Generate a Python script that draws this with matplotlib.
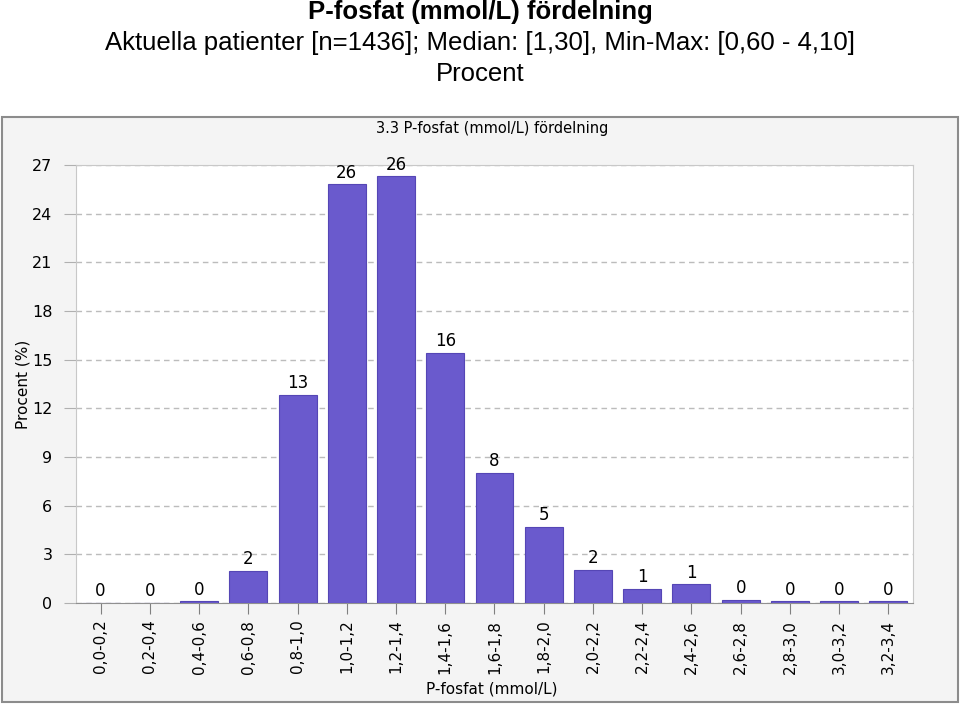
import matplotlib
matplotlib.use("Agg")
import matplotlib.pyplot as plt
from matplotlib.patches import Rectangle

categories = ['0,0-0,2', '0,2-0,4', '0,4-0,6', '0,6-0,8', '0,8-1,0', '1,0-1,2',
              '1,2-1,4', '1,4-1,6', '1,6-1,8', '1,8-2,0', '2,0-2,2', '2,2-2,4',
              '2,4-2,6', '2,6-2,8', '2,8-3,0', '3,0-3,2', '3,2-3,4']
percent = [0.0, 0.0, 0.1, 2.0, 12.85, 25.8, 26.3, 15.4, 8.0, 4.7, 2.05, 0.85,
           1.15, 0.2, 0.1, 0.1, 0.1]
bar_labels = ['0', '0', '0', '2', '13', '26', '26', '16', '8', '5', '2', '1',
              '1', '0', '0', '0', '0']
yticks = [0, 3, 6, 9, 12, 15, 18, 21, 24, 27]

W, H = 960, 704
fig = plt.figure(figsize=(W / 100, H / 100), dpi=100)
fig.patch.set_facecolor('white')

# headings above the panel
fig.text(0.5, 1 - 12 / H, 'P-fosfat (mmol/L) fördelning', ha='center', va='center',
         fontsize=18.5, fontweight='bold', family='Liberation Sans')
fig.text(0.5, 1 - 43 / H, 'Aktuella patienter [n=1436]; Median: [1,30], Min-Max: [0,60 - 4,10]',
         ha='center', va='center', fontsize=18.5, family='Liberation Sans')
fig.text(0.5, 1 - 74 / H, 'Procent', ha='center', va='center',
         fontsize=18.5, family='Liberation Sans')

# grey panel behind the chart
panel = Rectangle((2 / W, 1 - 702 / H), 956 / W, 585 / H,
                  transform=fig.transFigure, facecolor='#f4f4f4',
                  edgecolor='#8c8c8c', linewidth=1.5, zorder=-10)
fig.patches.append(panel)
fig.text(492 / W, 1 - 129 / H, '3.3 P-fosfat (mmol/L) fördelning', ha='center',
         va='center', fontsize=10.5)

ax = fig.add_axes([76 / W, 1 - 603 / H, 837 / W, 438 / H])
ax.set_facecolor('white')
x = range(len(categories))
ax.bar(x, percent, width=0.77, color='#6a5acd', edgecolor='#5546b5', linewidth=0.8, zorder=3)
for i, (v, lab) in enumerate(zip(percent, bar_labels)):
    ax.annotate(lab, (i, v), xytext=(0, 2), textcoords='offset points',
                ha='center', va='bottom', fontsize=12)

ax.set_xlim(-0.5, len(categories) - 0.5)
ax.set_ylim(0, 27)
ax.set_yticks(yticks)
ax.set_xticks(list(x))
ax.set_xticklabels(categories, rotation=90, fontsize=11)
ax.tick_params(axis='y', labelsize=11.5, length=9, color='#b0b0b0', pad=8)
ax.tick_params(axis='x', length=8, color='#808080', pad=4)
ax.yaxis.grid(True, linestyle=(0, (4, 3)), color='#bcbcbc', linewidth=1, zorder=0)
for s in ax.spines.values():
    s.set_color('#c8c8c8')
ax.spines['bottom'].set_color('#909090')

ax.set_ylabel('Procent (%)', fontsize=11)
ax.yaxis.set_label_coords(-46 / 837, 0.5)
ax.set_xlabel('P-fosfat (mmol/L)', fontsize=11)
ax.xaxis.set_label_coords((492 - 76) / 837, -79 / 438)

fig.savefig('out.png', dpi=100)
